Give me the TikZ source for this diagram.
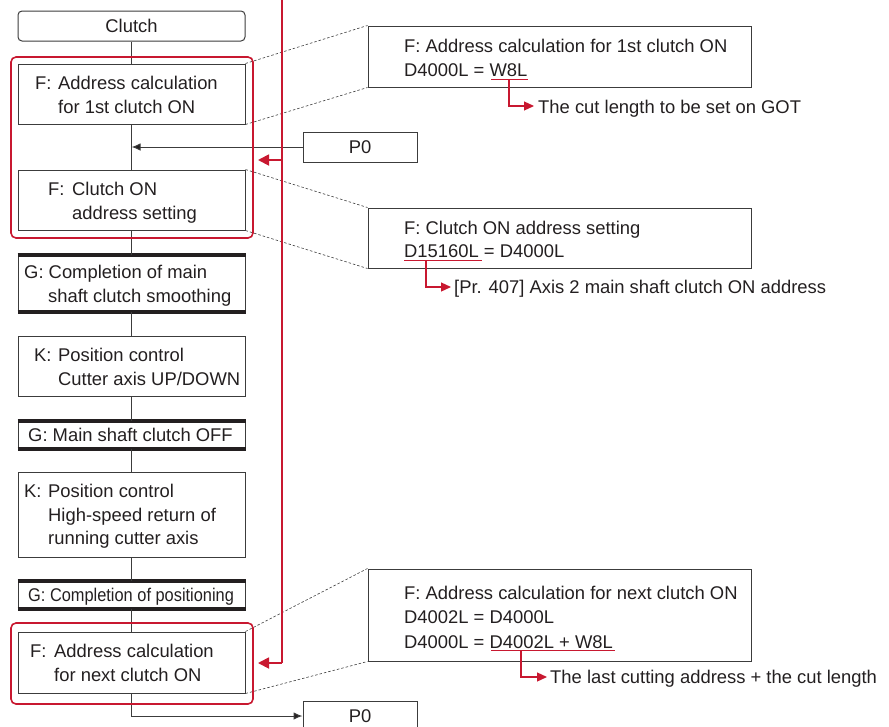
\documentclass[tikz,border=0pt]{standalone}
\usepackage{fontspec}
\setmainfont{Liberation Sans}
\usepackage{graphicx}
\usetikzlibrary{arrows.meta}
\definecolor{myred}{RGB}{200,24,48}
\definecolor{ink}{RGB}{35,31,32}
\definecolor{edge}{RGB}{60,60,60}
\begin{document}
\begin{tikzpicture}[x=1pt,y=-1pt,
  every node/.style={font=\fontsize{18.4}{24}\selectfont, text=ink},
  box/.style={draw=edge, line width=1pt, inner sep=0pt, minimum width=227pt},
  rbox/.style={draw=edge, line width=1pt, inner sep=0pt, minimum width=383pt},
  pbox/.style={draw=edge, line width=1pt, inner sep=0pt, minimum width=114pt, minimum height=30pt},
  redbox/.style={draw=myred, line width=1.6pt, rounded corners=5pt, minimum width=242pt, inner sep=0pt},
  txt/.style={anchor=base west, inner sep=0pt},
  bar/.style={line width=4pt, ink},
  flow/.style={draw=edge, line width=1pt},
  blkarrow/.style={draw=edge, line width=1pt, -{Latex[length=9pt,width=7.5pt,fill=ink]}},
  leader/.style={draw=edge, line width=0.6pt, dash pattern=on 2.5pt off 2pt},
  redline/.style={draw=myred, line width=1.8pt},
  redarrow/.style={draw=myred, line width=1.8pt, -{Triangle[length=11pt,width=11pt]}},
  ul/.style={draw=myred, line width=1.8pt},
  callout/.style={draw=myred, line width=1.2pt, -{Triangle[length=10pt,width=9pt]}}
]
\useasboundingbox (0,0) rectangle (889,726);

% left flow boxes
\node[box, minimum height=30pt, rounded corners=4pt] (clutch) at (131.5,26) {Clutch};
\node[box, minimum height=60pt] (f1) at (131.5,94) {};
\node[box, minimum height=60pt] (f2) at (131.5,200) {};
\node[box, minimum height=56pt] (g1) at (131.5,283) {};
\node[box, minimum height=60pt] (k1) at (131.5,366) {};
\node[box, minimum height=27pt] (g2) at (131.5,434.5) {};
\node[box, minimum height=85pt] (k2) at (131.5,514.5) {};
\node[box, minimum height=27pt] (g3) at (131.5,594.5) {};
\node[box, minimum height=61pt] (f3) at (131.5,662.5) {};

\foreach \g in {g1,g2,g3}{
  \draw[bar] (\g.north west) -- (\g.north east);
  \draw[bar] (\g.south west) -- (\g.south east);
}

% texts in left boxes
\node[txt] (f1a) at (35,89) {\makebox[23pt][l]{F:}Address calculation};
\node[txt] (f1b) at (58,113) {for 1st clutch ON};
\node[txt] (f2a) at (48,195) {\makebox[24pt][l]{F:}Clutch ON};
\node[txt] (f2b) at (72,219) {address setting};
\node[txt] (g1a) at (24,278) {G: Completion of main};
\node[txt] (g1b) at (48,302) {shaft clutch smoothing};
\node[txt] (k1a) at (34,361) {\makebox[24pt][l]{K:}Position control};
\node[txt] (k1b) at (58,385) {Cutter axis UP/DOWN};
\node[txt] (g2a) at (28,441) {G: Main shaft clutch OFF};
\node[txt] (k2a) at (24,497) {\makebox[24pt][l]{K:}Position control};
\node[txt] (k2b) at (48,521) {High-speed return of};
\node[txt] (k2c) at (48,544) {running cutter axis};
\node[txt] (g3a) at (28,601) {\scalebox{0.89}[1]{G: Completion of positioning}};
\node[txt] (f3a) at (30,657) {\makebox[24pt][l]{F:}Address calculation};
\node[txt] (f3b) at (54,681) {for next clutch ON};

% P0 boxes
\node[pbox] (p0a) at (360,147) {P0};
\node[pbox] (p0b) at (360,716) {P0};

% flow connectors
\draw[flow] (clutch.south) -- (f1.north);
\draw[flow] (f1.south) -- (f2.north);
\draw[flow] (f2.south) -- (g1.north);
\draw[flow] (g1.south) -- (k1.north);
\draw[flow] (k1.south) -- (g2.north);
\draw[flow] (g2.south) -- (k2.north);
\draw[flow] (k2.south) -- (g3.north);
\draw[flow] (g3.south) -- (f3.north);
\draw[blkarrow] (p0a.west) -- (p0a.west -| f1.south);
\draw[blkarrow] (f3.south) |- (p0b.west);

% right boxes
\node[rbox, minimum height=61pt] (r1) at (559.5,56.5) {};
\node[rbox, minimum height=60pt] (r2) at (559.5,238) {};
\node[rbox, minimum height=92pt] (r3) at (559.5,615) {};

\node[txt] (r1a) at (404,52) {F: Address calculation for 1st clutch ON};
\node[txt] (r1b) at (404,76) {D4000L = W8L};
\node[txt] (c1) at (538,113) {The cut length to be set on GOT};
\node[txt] (r2a) at (404,234) {F: Clutch ON address setting};
\node[txt] (r2b) at (404,257) {D15160L = D4000L};
\node[txt] (c2) at (454,293) {[Pr. 407] Axis 2 main shaft clutch ON address};
\node[txt] (r3a) at (404,599) {F: Address calculation for next clutch ON};
\node[txt] (r3b) at (404,623) {D4002L = D4000L};
\node[txt] (r3c) at (404,648) {D4000L = D4002L + W8L};
\node[txt] (c3) at (550,683) {The last cutting address + the cut length};

% dashed leaders
\draw[leader] (f1.north east) -- (r1.north west);
\draw[leader] (f1.south east) -- (r1.south west);
\draw[leader] (f2.north east) -- (r2.north west);
\draw[leader] (f2.south east) -- (r2.south west);
\draw[leader] (f3.north east) -- (r3.north west);
\draw[leader] (f3.south east) -- (r3.south west);

% underlines and callouts
\draw[ul] (491,79.5) -- (528,79.5);
\draw[ul] (404,260.5) -- (482,260.5);
\draw[ul] (491,650.5) -- (615,650.5);
\coordinate (u1) at (509,80);
\coordinate (e1) at (534,106);
\coordinate (u2) at (426,261);
\coordinate (e2) at (451,287);
\coordinate (u3) at (521,651);
\coordinate (e3) at (547,677);
\draw[callout] (u1) |- (e1);
\draw[callout] (u2) |- (e2);
\draw[callout] (u3) |- (e3);

% red groups and return line
\node[redbox, minimum height=181pt] (rr1) at (132,147.5) {};
\node[redbox, minimum height=81pt] (rr2) at (132,663.5) {};
\coordinate (rtop) at (282,0);
\coordinate (rjoin) at (282,160);
\coordinate (rbend) at (282,663);
\coordinate (a1) at (258,160);
\coordinate (a2) at (258,663);
\draw[redline] (rtop) -- (rbend);
\draw[redarrow] (rbend) -- (a2);
\draw[redarrow] (rjoin) -- (a1);
\end{tikzpicture}
\end{document}
